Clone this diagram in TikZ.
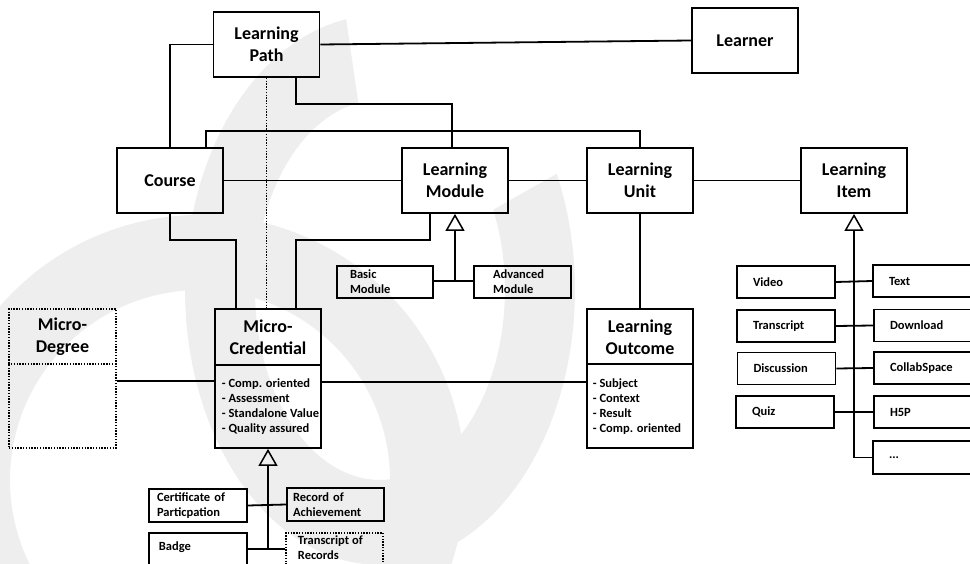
\documentclass[tikz,border=0pt]{standalone}
\usepackage{fontspec}
\setmainfont{Carlito}
\usetikzlibrary{arrows.meta}
\definecolor{wm}{RGB}{238,238,238}
\begin{document}
\begin{tikzpicture}[x=1pt,y=-1pt,
  line width=1.8pt,
  big/.style={draw, line width=1.8pt, minimum width=106pt, minimum height=65pt,
    align=center, inner sep=0pt, font=\bfseries\fontsize{18}{22}\selectfont},
  cls/.style={draw, line width=1.8pt, minimum width=106pt, minimum height=139pt, inner sep=0pt},
  dcls/.style={cls, dash pattern=on 1.4pt off 1.4pt, line width=1.6pt},
  ttl/.style={align=center, inner sep=0pt, font=\bfseries\fontsize{18}{22}\selectfont},
  attr/.style={anchor=west, align=left, inner sep=0pt, font=\bfseries\fontsize{12.5}{15}\selectfont},
  sub/.style={draw, line width=1.8pt, minimum height=32pt, align=left, inner ysep=0pt,
    font=\bfseries\fontsize{12.5}{15}\selectfont},
  plain/.style={draw, line width=1.8pt, inner sep=0pt},
  lbl/.style={anchor=west, align=left, inner sep=0pt, font=\bfseries\fontsize{12.5}{15}\selectfont},
  gen/.style={-{Triangle[open, length=17pt, width=19pt, line width=1.5pt]}},
  dot/.style={dash pattern=on 1.4pt off 1.4pt, line width=1.6pt}
]
\useasboundingbox (0,0) rectangle (970,564);
\fill[white] (0,0) rectangle (970,564);

% faint background logo
\fill[wm] plot[domain=-100:-385, samples=90] ({380+195*cos(\x)},{290+275*sin(\x)})
  -- plot[domain=-385:-100, samples=90] ({380+125*cos(\x)},{290+190*sin(\x)}) -- cycle;
\fill[wm, even odd rule] (200,480) circle[radius=265] (200,480) circle[radius=190];

% main classes
\node[big] (lp) at (266.5,44.5) {Learning\\Path};
\node[big] (learner) at (745,40.5) {Learner};
\node[big] (course) at (170,180.5) {Course};
\node[big] (lm) at (455,180.5) {Learning\\Module};
\node[big] (lu) at (640,180.5) {Learning\\Unit};
\node[big] (li) at (854,180.5) {Learning\\Item};

% classes with attribute compartments
\node[cls] (mc) at (268,378.5) {};
\draw[line width=1.8pt] (mc.west |- 0,365) -- (mc.east |- 0,365);
\node[ttl] (mct) at (268,337) {Micro-\\Credential};
\node[attr] (mca) at (221,406.5) {- Comp. oriented\\- Assessment\\- Standalone Value\\- Quality assured};

\node[cls] (lo) at (640,378.5) {};
\draw[line width=1.8pt] (lo.west |- 0,364) -- (lo.east |- 0,364);
\node[ttl] (lot) at (640,337) {Learning\\Outcome};
\node[attr] (loa) at (592,406.5) {- Subject\\- Context\\- Result\\- Comp. oriented};

\node[dcls, minimum width=107pt] (md) at (62.5,378.5) {};
\draw[dot] (md.west |- 0,364) -- (md.east |- 0,364);
\node[ttl] (mdt) at (62.5,337) {Micro-\\Degree};

% module kinds
\node[sub, minimum width=96pt, text width=70pt, inner xsep=13pt] (basic) at (385,282) {Basic\\Module};
\node[sub, minimum width=97pt, text width=59pt, inner xsep=19pt] (adv) at (522.5,282) {Advanced\\Module};

% item kinds
\node[sub, text width=66pt, inner xsep=16pt] (video) at (786,282) {Video};
\node[sub, text width=66pt, inner xsep=16pt] (trans) at (786,326) {Transcript};
\node[sub, text width=66pt, inner xsep=16pt] (disc) at (786.5,368.5) {Discussion};
\node[sub, text width=66pt, inner xsep=16pt] (quiz) at (785,412) {Quiz};
\node[sub, text width=88pt, inner xsep=16pt] (text) at (933,281) {Text};
\node[sub, text width=88pt, inner xsep=16pt] (down) at (934,325.5) {Download};
\node[sub, text width=88pt, inner xsep=16pt] (collab) at (934,368) {CollabSpace};
\node[sub, text width=88pt, inner xsep=16pt] (h5p) at (934,412) {H5P};
\node[sub, minimum height=33pt, text width=88pt, inner xsep=16pt] (more) at (933,457.5) {...};

% credential kinds
\node[sub, minimum height=33pt, text width=82pt, inner xsep=8pt] (cert) at (198,505.5) {Certificate of\\Particpation};
\node[sub, minimum height=33pt, text width=85pt, inner xsep=6pt] (rec) at (335.5,504.5) {Record of\\Achievement};
\node[plain, minimum width=98pt, minimum height=50pt] (badge) at (198,558) {};
\node[lbl] at (158,547) {Badge};
\node[plain, dot, minimum width=97pt, minimum height=50pt] (tor) at (334.5,558) {};
\node[lbl] at (297,548) {Transcript of\\Records};

% associations
\draw (lp.west) -| (course.north);
\draw (lp.east) -- (learner.west);
\draw ([xshift=29.5pt]lp.south) -- ++(0,26) -| ([xshift=-3pt]lm.north);
\draw ([xshift=36pt]course.north) -- ++(0,-16) -| (lu.north);
\draw (course.east) -- (lm.west);
\draw (lm.east) -- (lu.west);
\draw (lu.east) -- (li.west);
\draw (course.south) -- ++(0,26) -| ([xshift=-32pt]mc.north);
\draw ([xshift=-25pt]lm.south) -- ++(0,26) -| ([xshift=28pt]mc.north);
\draw[dot] (lp.south) -- (lp.south |- mc.north);
\draw (lu.south) -- (lo.north);
\draw ([yshift=-2.5pt]md.east) -- ([yshift=-2.5pt]mc.west);
\draw ([yshift=-3.5pt]mc.east) -- ([yshift=-3.5pt]lo.west);

% generalisations
\coordinate (lmj) at (lm.south |- 0,281);
\draw (basic.east |- lmj) -- (adv.west |- lmj);
\draw[gen] (lmj) -- (lm.south);

\coordinate (mcj) at (mc.south |- 0,549);
\draw (cert.east) -- (rec.west);
\draw (badge.east |- mcj) -- (tor.west |- mcj);
\draw[gen] (mcj) -- (mc.south);

\coordinate (lij) at (li.south |- more.west);
\draw (video.east) -- (text.west);
\draw (trans.east) -- (down.west);
\draw (disc.east) -- (collab.west);
\draw (quiz.east) -- (h5p.west);
\draw (lij) -- (more.west);
\draw[gen] (lij) -- (li.south);
\end{tikzpicture}
\end{document}
